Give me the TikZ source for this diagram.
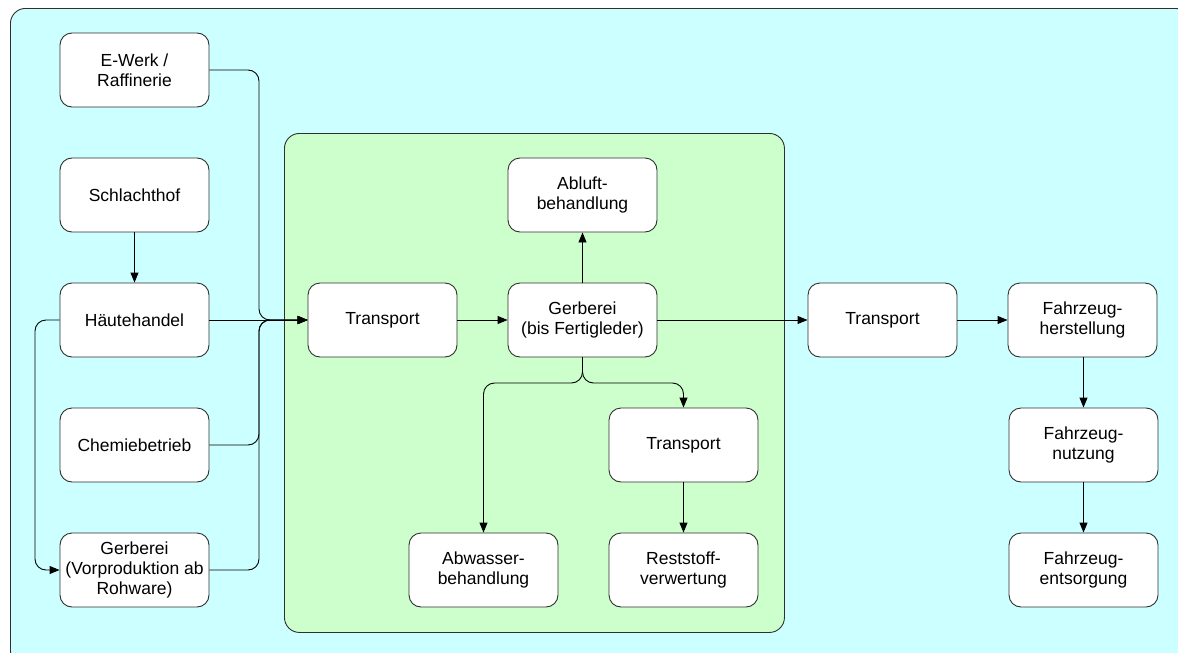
\documentclass[tikz,border=0pt]{standalone}
\usepackage{fontspec}
\setmainfont{Liberation Sans}
\usetikzlibrary{arrows.meta}
\definecolor{bgcyan}{HTML}{CCFFFF}
\definecolor{bggreen}{HTML}{CCFFCC}
\definecolor{edge}{HTML}{303030}
\tikzset{
  box/.style={draw=edge, line width=0.9pt, fill=white, rounded corners=12pt,
    minimum width=149pt, minimum height=74pt, align=center, inner sep=2pt,
    font=\fontsize{17.5}{20}\selectfont},
  conn/.style={draw=black, line width=0.9pt, rounded corners=11pt},
  arr/.style={conn, -{Triangle[length=10pt,width=8pt]}}
}
\begin{document}
\begin{tikzpicture}[x=1pt,y=-1pt]
\useasboundingbox (0,0) rectangle (1178,653);
\begin{scope}
\clip (0,0) rectangle (1178,653);
\node[draw=edge, line width=0.9pt, fill=bgcyan, rounded corners=15pt, minimum width=1180pt, minimum height=657pt, anchor=north west] (bg) at (10,8) {};
\end{scope}
\node[draw=edge, line width=0.9pt, fill=bggreen, rounded corners=15pt, minimum width=500pt, minimum height=499pt, anchor=north west] (green) at (284,133) {};

\node[box] (ewerk) at (134.5,70) {E-Werk /\\Raffinerie};
\node[box] (schlacht) at (134.5,195) {Schlachthof};
\node[box] (haute) at (134.5,320) {Häutehandel};
\node[box] (chemie) at (134.5,445) {Chemiebetrieb};
\node[box] (gerbv) at (134.5,570) {Gerberei\\(Vorproduktion ab\\Rohware)};

\node[box] (tr1) at (382.5,320) {Transport};
\node[box] (abluft) at (582.5,195) {Abluft-\\behandlung};
\node[box] (gerb) at (582.5,320) {Gerberei\\(bis Fertigleder)};
\node[box] (tr2) at (683.5,445) {Transport};
\node[box] (abw) at (483.5,570) {Abwasser-\\behandlung};
\node[box] (rest) at (683.5,570) {Reststoff-\\verwertung};

\node[box] (tr3) at (882.5,320) {Transport};
\node[box] (fh) at (1082.5,320) {Fahrzeug-\\herstellung};
\node[box] (fn) at (1083.5,445) {Fahrzeug-\\nutzung};
\node[box] (fe) at (1083.5,570) {Fahrzeug-\\entsorgung};

\coordinate (merge) at (259,320);
\coordinate (gsplit) at (582.5,383);
\coordinate (hleft) at (35,320);

\draw[arr] (ewerk.east) -| (merge) -- (tr1.west);
\draw[arr] (chemie.east) -| (merge) -- (tr1.west);
\draw[arr] (gerbv.east) -| (merge) -- (tr1.west);
\draw[arr] (haute.east) -- (tr1.west);
\draw[arr] (haute.west) -- (hleft) |- (gerbv.west);
\draw[arr] (schlacht.south) -- (haute.north);

\draw[arr] (tr1.east) -- (gerb.west);
\draw[arr] (gerb.north) -- (abluft.south);
\draw[arr] (gerb.south) -- (gsplit) -| (abw.north);
\draw[arr] (gerb.south) -- (gsplit) -| (tr2.north);
\draw[arr] (tr2.south) -- (rest.north);

\draw[arr] (gerb.east) -- (tr3.west);
\draw[arr] (tr3.east) -- (fh.west);
\draw[arr] (fn.north |- fh.south) -- (fn.north);
\draw[arr] (fn.south) -- (fe.north);
\end{tikzpicture}
\end{document}
